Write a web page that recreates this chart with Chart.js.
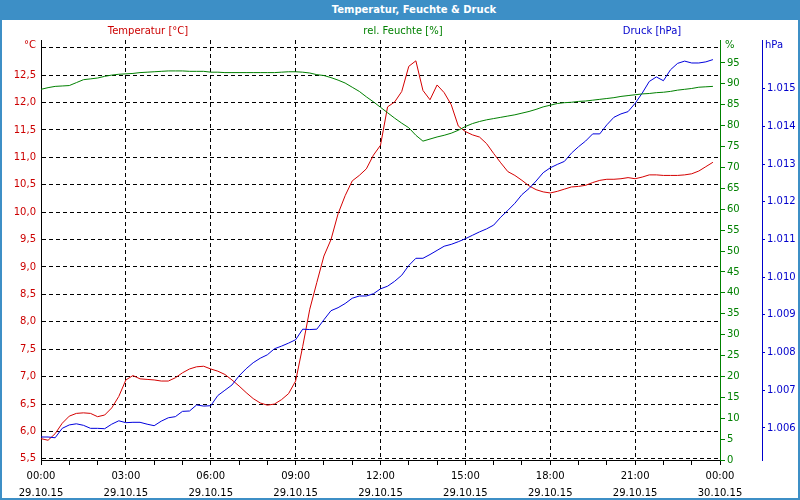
<!DOCTYPE html>
<html><head><meta charset="utf-8">
<script src="https://cdn.jsdelivr.net/npm/chart.js@4.4.0/dist/chart.umd.min.js"></script>
<style>
html,body{margin:0;padding:0;background:#fff;}
#wrap{position:relative;width:800px;height:500px;overflow:hidden;font-family:"DejaVu Sans",sans-serif;font-size:10px;}
#c{position:absolute;left:0;top:0;}
.t{position:absolute;white-space:nowrap;line-height:12px;}
#titlebar{position:absolute;left:0;top:0;width:800px;height:20px;background:#3d8fc6;}
#title{position:absolute;left:0;top:4px;width:828px;text-align:center;color:#fff;font-weight:bold;font-size:10px;line-height:12px;}
#frame{position:absolute;left:0;top:0;width:796px;height:498px;border-left:2px solid #3d8fc6;border-right:2px solid #3d8fc6;border-bottom:2px solid #3d8fc6;}
</style></head>
<body>
<div id="wrap">
<canvas id="c" width="800" height="500"></canvas>
<div id="frame"></div>
<div id="titlebar"></div>
<div id="title">Temperatur, Feuchte &amp; Druck</div>
<div class="t" style="left:48px;width:200px;text-align:center;top:25px;color:#cc0000">Temperatur [°C]</div>
<div class="t" style="left:303px;width:200px;text-align:center;top:25px;color:#008000">rel. Feuchte [%]</div>
<div class="t" style="left:552px;width:200px;text-align:center;top:25px;color:#0000cc">Druck [hPa]</div>
<div class="t" style="left:0px;width:36px;text-align:right;top:39px;color:#cc0000">°C</div>
<div class="t" style="left:725px;top:39px;color:#008000">%</div>
<div class="t" style="left:765px;top:39px;color:#0000cc">hPa</div>
</div>
<script>
const categories = ["00:00","00:15","00:30","00:45","01:00","01:15","01:30","01:45","02:00","02:15","02:30","02:45",
"03:00","03:15","03:30","03:45","04:00","04:15","04:30","04:45","05:00","05:15","05:30","05:45",
"06:00","06:15","06:30","06:45","07:00","07:15","07:30","07:45","08:00","08:15","08:30","08:45",
"09:00","09:15","09:30","09:45","10:00","10:15","10:30","10:45","11:00","11:15","11:30","11:45",
"12:00","12:15","12:30","12:45","13:00","13:15","13:30","13:45","14:00","14:15","14:30","14:45",
"15:00","15:15","15:30","15:45","16:00","16:15","16:30","16:45","17:00","17:15","17:30","17:45",
"18:00","18:15","18:30","18:45","19:00","19:15","19:30","19:45","20:00","20:15","20:30","20:45",
"21:00","21:15","21:30","21:45","22:00","22:15","22:30","22:45","23:00","23:15","23:30","23:45","24:00"];
const tickTimes = ["00:00","03:00","06:00","09:00","12:00","15:00","18:00","21:00","00:00"];
const tickDates = ["29.10.15","29.10.15","29.10.15","29.10.15","29.10.15","29.10.15","29.10.15","29.10.15","30.10.15"];
const tempTicks = [5.5,6,6.5,7,7.5,8,8.5,9,9.5,10,10.5,11,11.5,12,12.5,13];
const humTicks = [0,5,10,15,20,25,30,35,40,45,50,55,60,65,70,75,80,85,90,95];
const pressTicks = [1006,1007,1008,1009,1010,1011,1012,1013,1014,1015];

const temperature = [5.87,5.84,5.96,6.15,6.28,6.33,6.34,6.33,6.27,6.30,6.43,6.64,
6.94,7.02,6.96,6.95,6.94,6.92,6.92,6.98,7.07,7.14,7.18,7.19,
7.14,7.10,7.04,6.94,6.83,6.71,6.60,6.52,6.48,6.50,6.58,6.69,
6.92,7.55,8.23,8.72,9.20,9.50,9.97,10.30,10.57,10.67,10.79,11.04,
11.22,11.92,12.01,12.20,12.66,12.76,12.22,12.05,12.32,12.18,11.96,11.57,
11.47,11.41,11.37,11.25,11.07,10.90,10.74,10.67,10.58,10.48,10.41,10.37,
10.35,10.38,10.42,10.46,10.47,10.49,10.54,10.58,10.60,10.60,10.61,10.63,
10.61,10.64,10.68,10.68,10.67,10.67,10.67,10.68,10.70,10.75,10.83,10.91];
const humidity = [88.7,89.1,89.4,89.5,89.6,90.3,91.0,91.2,91.4,91.8,92.1,92.3,
92.4,92.5,92.7,92.8,92.9,93.0,93.1,93.1,93.1,93.0,93.0,93.0,
92.8,92.8,92.7,92.7,92.7,92.7,92.7,92.7,92.7,92.7,92.8,92.9,
92.9,92.8,92.6,92.2,92.0,91.5,90.9,90.2,89.2,88.2,86.9,85.7,
84.4,83.1,81.8,80.6,79.5,77.7,76.3,76.8,77.3,77.7,78.2,78.9,
79.8,80.5,81.0,81.4,81.7,82.0,82.3,82.6,83.0,83.4,83.9,84.5,
84.9,85.3,85.5,85.6,85.8,85.9,86.1,86.3,86.5,86.7,87.0,87.2,
87.4,87.6,87.7,87.9,88.0,88.2,88.5,88.7,88.9,89.2,89.3,89.4];
const pressure = [1005.76,1005.76,1005.74,1005.99,1006.08,1006.11,1006.07,1005.99,1005.99,1005.98,1006.10,1006.19,
1006.14,1006.15,1006.15,1006.10,1006.06,1006.18,1006.27,1006.30,1006.44,1006.45,1006.61,1006.58,
1006.59,1006.86,1007.00,1007.14,1007.38,1007.57,1007.73,1007.85,1007.94,1008.10,1008.17,1008.25,
1008.34,1008.62,1008.61,1008.62,1008.87,1009.11,1009.19,1009.30,1009.44,1009.50,1009.50,1009.56,
1009.69,1009.76,1009.89,1010.05,1010.31,1010.50,1010.50,1010.60,1010.71,1010.82,1010.87,1010.94,
1011.02,1011.11,1011.20,1011.28,1011.38,1011.59,1011.77,1011.96,1012.19,1012.35,1012.55,1012.77,
1012.90,1012.99,1013.07,1013.29,1013.46,1013.61,1013.80,1013.80,1014.04,1014.24,1014.33,1014.39,
1014.61,1014.88,1015.19,1015.31,1015.21,1015.50,1015.67,1015.73,1015.68,1015.68,1015.71,1015.77];

const FONT = {family:'"DejaVu Sans", sans-serif', size:10};
const fmtP = v => Math.floor(v/1000) + '.' + String(Math.round(v % 1000)).padStart(3,'0');

new Chart(document.getElementById('c'), {
  type:'line',
  data:{
    labels:categories,
    datasets:[
      {label:'rel. Feuchte [%]', data:humidity, yAxisID:'yH', borderColor:'#008000', borderWidth:1, pointRadius:0, tension:0, fill:false},
      {label:'Druck [hPa]', data:pressure, yAxisID:'yP', borderColor:'#0000dd', borderWidth:1, pointRadius:0, tension:0, fill:false},
      {label:'Temperatur [°C]', data:temperature, yAxisID:'yT', borderColor:'#d40000', borderWidth:1, pointRadius:0, tension:0, fill:false}
    ]
  },
  options:{
    responsive:false, animation:false, devicePixelRatio:1,
    layout:{padding:{top:40,left:0,right:0,bottom:0}},
    plugins:{legend:{display:false}, tooltip:{enabled:false}, title:{display:false}},
    scales:{
      x:{
        type:'category', offset:false,
        grid:{
          color: c => (c.index % 12 === 0 && c.index < 96) ? '#000' : 'rgba(0,0,0,0)',
          tickColor: c => (c.index % 4 === 0) ? '#000' : 'rgba(0,0,0,0)',
          tickLength:5, drawTicks:true, tickBorderDash:[], lineWidth:1, tickWidth:1
        },
        border:{display:true, color:'#000', width:1, dash:[4,3]},
        ticks:{autoSkip:false, maxRotation:0, minRotation:0, padding:3, color:'#000', font:{...FONT, lineHeight:1.7},
          callback:(v,i) => i % 12 === 0 ? [tickTimes[i/12], tickDates[i/12]] : ''},
        afterFit: s => { s.height = 40; }
      },
      yT:{
        position:'left', min:5.48, max:13.14,
        afterBuildTicks: s => { s.ticks = tempTicks.map(v => ({value:v})); },
        grid:{color:'#000', drawTicks:false, lineWidth:1},
        border:{display:true, color:'#000', width:1, dash:[4,3]},
        ticks:{color:'#cc0000', padding:5, font:FONT, callback: v => v === 13 ? '' : Number(v).toFixed(1).replace('.',',')},
        afterFit: s => { s.width = 41; }
      },
      yH:{
        position:'right', min:0, max:100.5,
        afterBuildTicks: s => { s.ticks = humTicks.map(v => ({value:v})); },
        grid:{drawOnChartArea:false, color:'#008000', tickColor:'#008000', tickLength:5, tickBorderDash:[]},
        border:{display:true, color:'#008000', width:1},
        ticks:{color:'#008000', padding:2, font:FONT, callback: v => String(v)},
        afterFit: s => { s.width = 42; }
      },
      yP:{
        position:'right', min:1005.15, max:1016.29,
        afterBuildTicks: s => { s.ticks = pressTicks.map(v => ({value:v})); },
        grid:{drawOnChartArea:false, color:'#0000cc', tickColor:'#0000cc', tickLength:3, tickBorderDash:[]},
        border:{display:true, color:'#0000cc', width:1},
        ticks:{color:'#0000cc', padding:2, font:FONT, callback: v => fmtP(v)},
        afterFit: s => { s.width = 38; }
      }
    }
  }
});
</script>
</body></html>
